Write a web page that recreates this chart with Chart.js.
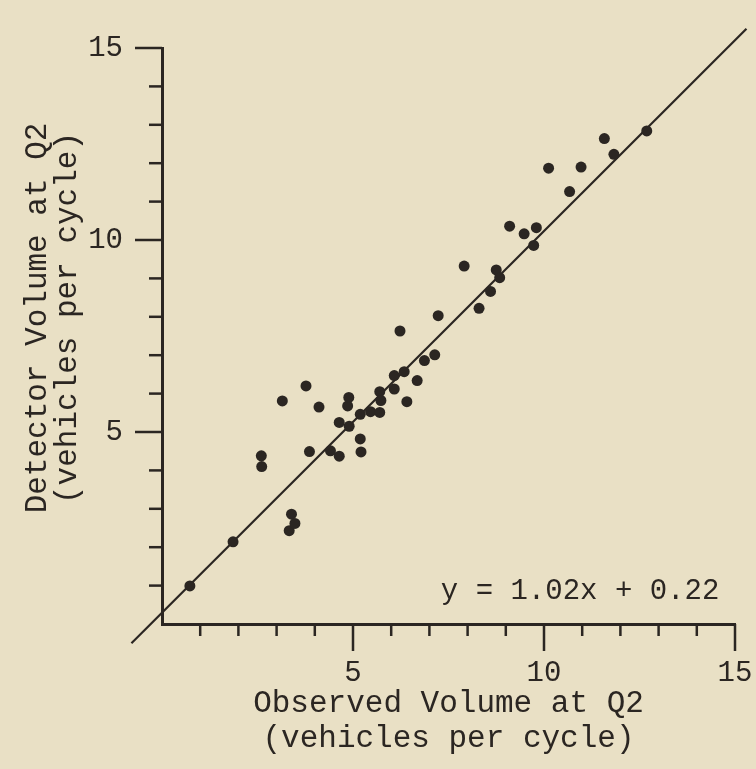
<!DOCTYPE html>
<html>
<head>
<meta charset="utf-8">
<script src="https://cdn.jsdelivr.net/npm/chart.js@4.4.1/dist/chart.umd.min.js"></script>
<style>
  html, body { margin: 0; padding: 0; background: #e9e0c5; }
</style>
</head>
<body>
<canvas id="myChart" width="756" height="769"></canvas>
<script>
// observed (x) vs detector (y) volumes, vehicles per cycle
const observed = [0.73, 1.86, 2.60, 2.61, 3.15, 3.33, 3.39, 3.48, 3.77, 3.86,
  4.11, 4.41, 4.64, 4.64, 4.86, 4.89, 4.90, 5.19, 5.19, 5.21,
  5.46, 5.70, 5.70, 5.73, 6.08, 6.08, 6.23, 6.34, 6.41, 6.68,
  6.87, 7.14, 7.23, 7.91, 8.30, 8.60, 8.75, 8.84, 9.10, 9.48,
  9.73, 9.80, 10.12, 10.67, 10.97, 11.58, 11.83, 12.69];
const detector = [0.99, 2.14, 4.38, 4.10, 5.81, 2.43, 2.86, 2.62, 6.20, 4.49,
  5.65, 4.51, 5.25, 4.37, 5.68, 5.90, 5.15, 5.46, 4.82, 4.48,
  5.53, 5.51, 6.05, 5.82, 6.47, 6.12, 7.63, 6.57, 5.79, 6.34,
  6.86, 7.01, 8.03, 9.32, 8.22, 8.66, 9.22, 9.02, 10.36, 10.16,
  9.86, 10.32, 11.87, 11.26, 11.90, 12.64, 12.23, 12.84];

// ends of the fitted line as drawn
const fitX = [-0.8, 15.3];
const fitY = [-0.5, 15.5];

const labelTicks = [5, 10, 15];
const equation = 'y = 1.02x + 0.22';
const xTitle = ['Observed Volume at Q2', '(vehicles per cycle)'];
const yTitle = ['Detector Volume at Q2', '(vehicles per cycle)'];

const INK = '#2b2622';
const PAPER = '#e9e0c5';
const FONT = "'Liberation Mono', 'DejaVu Sans Mono', monospace";

const points = observed.map((v, i) => ({x: v, y: detector[i]}));
const fitLine = fitX.map((v, i) => ({x: v, y: fitY[i]}));

// paper background, tick marks, equation and y title
const paper = {
  id: 'paper',
  beforeDraw(chart) {
    const ctx = chart.ctx;
    ctx.save();
    ctx.fillStyle = PAPER;
    ctx.fillRect(0, 0, chart.width, chart.height);
    ctx.restore();
  },
  afterDraw(chart) {
    const {ctx, chartArea, scales: {x, y}} = chart;
    const left = x.getPixelForValue(0);
    const bottom = y.getPixelForValue(0);
    ctx.save();
    ctx.strokeStyle = INK;
    ctx.lineWidth = 2.5;
    for (let v = 1; v <= 15; v++) {
      const big = v % 5 === 0;
      const py = y.getPixelForValue(v);
      ctx.beginPath();
      ctx.moveTo(left - (big ? 27 : 13), py);
      ctx.lineTo(left, py);
      ctx.stroke();
      const px = x.getPixelForValue(v);
      ctx.beginPath();
      ctx.moveTo(px, bottom);
      ctx.lineTo(px, bottom + (big ? 27 : 12));
      ctx.stroke();
    }

    ctx.fillStyle = INK;
    ctx.font = '29px ' + FONT;
    ctx.textAlign = 'left';
    ctx.textBaseline = 'middle';
    ctx.fillText(equation, x.getPixelForValue(7.3), y.getPixelForValue(0.85));

    ctx.font = '31px ' + FONT;
    ctx.textAlign = 'center';
    const cy = (chartArea.top + chartArea.bottom) / 2 - 18;
    [38, 68].forEach((tx, i) => {
      ctx.save();
      ctx.translate(tx, cy);
      ctx.rotate(-Math.PI / 2);
      ctx.fillText(yTitle[i], 0, 0);
      ctx.restore();
    });
    ctx.restore();
  }
};

const myChart = new Chart(document.getElementById('myChart'), {
  type: 'scatter',
  data: {
    datasets: [{
      data: points,
      backgroundColor: INK,
      borderColor: INK,
      pointRadius: 5.5,
      pointBorderWidth: 0
    }, {
      type: 'line',
      data: fitLine,
      borderColor: INK,
      borderWidth: 2.2,
      pointRadius: 0,
      clip: false
    }]
  },
  options: {
    responsive: false,
    animation: false,
    devicePixelRatio: 1,
    layout: { padding: {top: 48, right: 21, left: 0, bottom: 0} },
    plugins: { legend: {display: false}, tooltip: {enabled: false} },
    scales: {
      x: {
        type: 'linear',
        min: 0,
        max: 15,
        grid: {display: false, drawTicks: false},
        border: {display: true, color: INK, width: 3},
        ticks: {
          stepSize: 1,
          autoSkip: false,
          maxRotation: 0,
          padding: 32,
          color: INK,
          font: {family: FONT, size: 29},
          callback: v => labelTicks.includes(v) ? String(v) : ''
        },
        title: {
          display: true,
          text: xTitle,
          color: INK,
          font: {family: FONT, size: 31, lineHeight: 1.15},
          padding: {top: 0, bottom: 12}
        },
        afterFit: s => {
          s.height = 145;
          s.paddingLeft = 0;
          s.paddingRight = 0;
        }
      },
      y: {
        type: 'linear',
        min: 0,
        max: 15,
        grid: {display: false, drawTicks: false},
        border: {display: true, color: INK, width: 3},
        ticks: {
          stepSize: 1,
          autoSkip: false,
          padding: 39,
          color: INK,
          font: {family: FONT, size: 29},
          callback: v => labelTicks.includes(v) ? String(v) : ''
        },
        afterFit: s => {
          s.width = 162;
          s.paddingTop = 0;
          s.paddingBottom = 0;
        }
      }
    }
  },
  plugins: [paper]
});
</script>
</body>
</html>
